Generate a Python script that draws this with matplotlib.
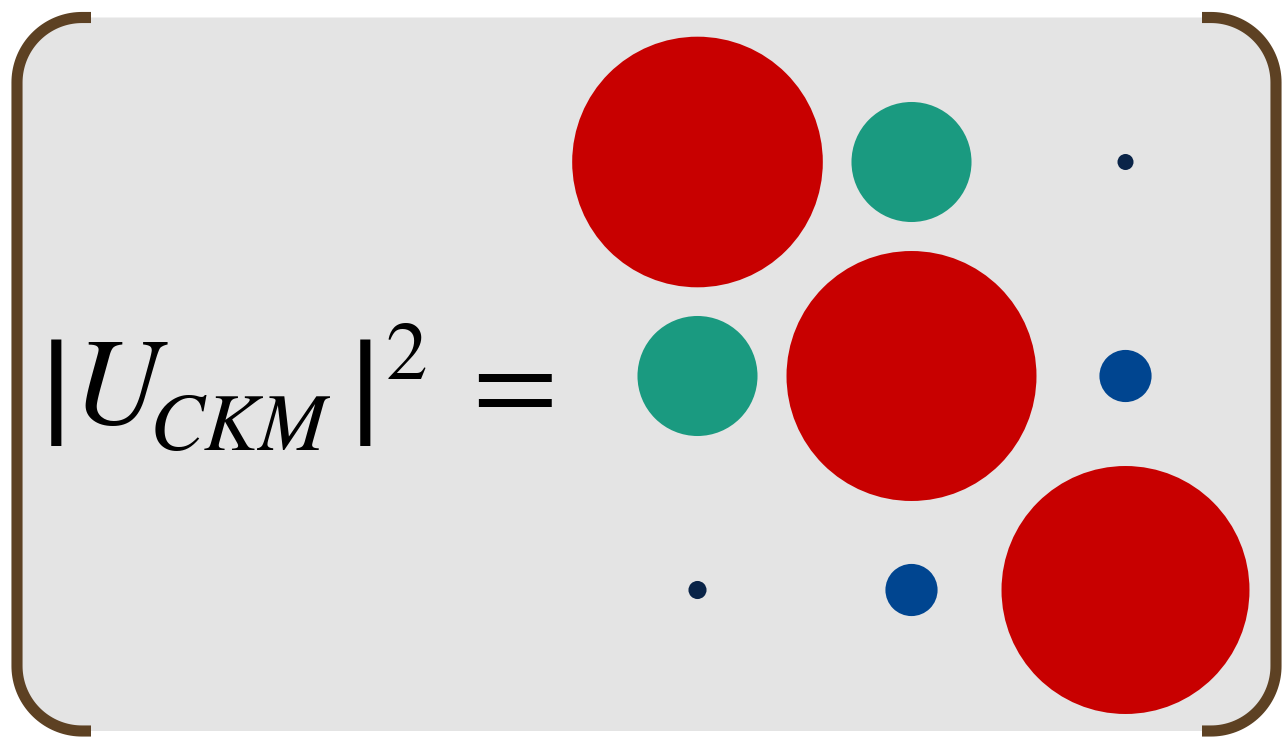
import numpy as np
import matplotlib.pyplot as plt
from matplotlib.patches import FancyBboxPatch, Circle

# squared CKM magnitudes |V_ij|^2, rows u c t, columns d s b
ckm_sq = [
    [0.96, 0.0505, 1.6e-5],
    [0.0505, 0.95, 0.0018],
    [2.6e-5, 0.0018, 0.92],
]
colors = [
    ["#c80000", "#1a9a80", "#0a2448"],
    ["#1a9a80", "#c80000", "#004590"],
    ["#0a2448", "#004590", "#c80000"],
]

# formula pieces: text, x, baseline, size, italic
label_parts = [
    ("|", 41, 444, 110, False),
    ("U", 72, 424, 89, True),
    ("CKM", 150, 450, 59, True),
    ("|", 350, 444, 110, False),
    ("2", 386, 379, 60, False),
    ("=", 472, 422, 89, False),
]

W, H = 1285, 737
fig = plt.figure(figsize=(W / 100, H / 100), dpi=100)
ax = fig.add_axes([0, 0, 1, 1])
ax.set_xlim(0, W)
ax.set_ylim(H, 0)
ax.axis("off")

# panel
left, top, right, bottom = 17, 17.5, 1276, 731
rad = 65
box = FancyBboxPatch((left, top), right - left, bottom - top,
                     boxstyle="round,pad=0,rounding_size=%d" % rad,
                     facecolor="#e4e4e4", edgecolor="none")
ax.add_patch(box)


def bracket(side):
    t = np.linspace(0, np.pi / 2, 40)
    sgn = -1 if side == "left" else 1
    cx = left + rad if side == "left" else right - rad
    xs_top = cx + sgn * rad * np.sin(t)
    ys_top = top + rad - rad * np.cos(t)
    xs_bot = xs_top[::-1]
    ys_bot = bottom - rad + rad * np.cos(t[::-1])
    xs = np.concatenate([[cx - sgn * 9], xs_top, xs_bot, [cx - sgn * 9]])
    ys = np.concatenate([[top], ys_top, ys_bot, [bottom]])
    ax.plot(xs, ys, color="#5d4123", lw=8, solid_capstyle="butt",
            solid_joinstyle="round")


bracket("left")
bracket("right")

# circle grid, radius ~ |V|^(1/2)
x0, y0, step = 697.5, 162, 214
scale = 126.6
for i in range(3):
    for j in range(3):
        r = scale * ckm_sq[i][j] ** 0.25
        ax.add_patch(Circle((x0 + j * step, y0 + i * step), r,
                            facecolor=colors[i][j], edgecolor="none"))

for s, x, y, size, italic in label_parts:
    ax.text(x, y, s, fontsize=size, family="STIXGeneral",
            style="italic" if italic else "normal",
            color="black", ha="left", va="baseline")

fig.savefig("out.png", dpi=100)
